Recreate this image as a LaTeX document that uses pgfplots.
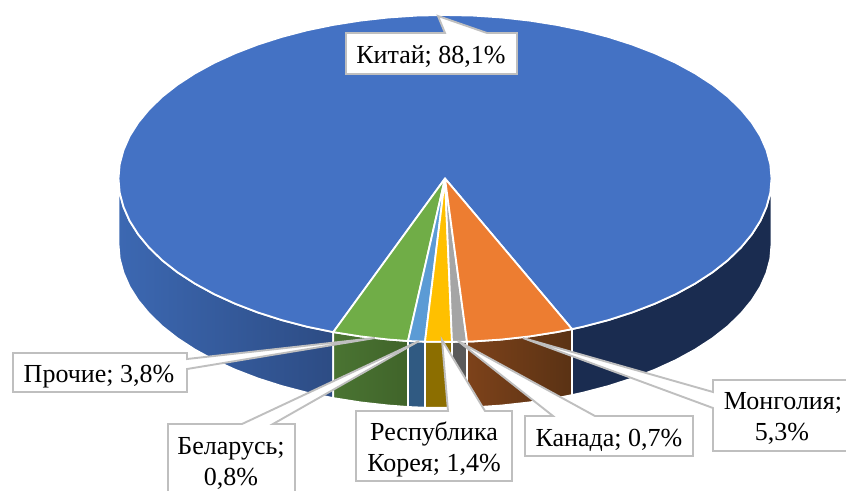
\documentclass[border=0pt]{standalone}
\usepackage{fontspec}
\setmainfont{Liberation Serif}
\usepackage{pgfplots}
\pgfplotsset{compat=1.18}

\definecolor{cBlue}{HTML}{4472C4}
\definecolor{cOrange}{HTML}{ED7D31}
\definecolor{cGrey}{HTML}{A5A5A5}
\definecolor{cYellow}{HTML}{FFC000}
\definecolor{cSky}{HTML}{5B9BD5}
\definecolor{cGreen}{HTML}{70AD47}
\definecolor{cNavy}{HTML}{1A2C50}
\definecolor{boxline}{HTML}{BFBFBF}

\tikzset{
  top/.style={draw=white, line width=1.8pt, line join=round},
  side/.style={draw=white, line width=1.8pt, line join=round},
  callout/.style={draw=boxline, fill=white, line width=1.9pt, line join=miter},
  lbl/.style={anchor=base, inner sep=0pt, font=\fontsize{26}{30}\selectfont, text=black},
}

\begin{document}
\begin{tikzpicture}
\begin{axis}[
    scale only axis, width=846pt, height=490pt,
    xmin=0, xmax=846, ymin=0, ymax=490,
    y dir=reverse, hide axis,
]
% side wall, left part of the big slice
\addplot[side, left color={rgb,255:red,60;green,104;blue,178}, middle color={rgb,255:red,54;green,92;blue,158}, right color={rgb,255:red,45;green,76;blue,132}] coordinates {
(333.3,332.1)(307.0,326.7)(281.8,320.1)(257.7,312.4)(235.1,303.7)(214.1,294.1)(194.9,283.6)(177.5,272.3)
(162.2,260.3)(149.1,247.6)(138.2,234.4)(129.6,220.8)(123.5,206.9)(119.7,192.8)(118.5,178.5)
(118.5,244.5)(119.7,258.8)(123.5,272.9)(129.6,286.8)(138.2,300.4)(149.1,313.6)(162.2,326.3)(177.5,338.3)
(194.9,349.6)(214.1,360.1)(235.1,369.7)(257.7,378.4)(281.8,386.1)(307.0,392.7)(333.3,398.1)
} -- cycle;
% side wall, right part of the big slice
\addplot[side, fill=cNavy] coordinates {
(572,329.1)(583.0,326.7)(608.3,320.1)(632.3,312.4)(654.9,303.7)(675.9,294.1)(695.1,283.6)(712.5,272.3)
(727.8,260.3)(740.9,247.6)(751.8,234.4)(760.4,220.8)(766.5,206.9)(770.3,192.8)(771.5,178.5)
(771.5,244.5)(770.3,258.8)(766.5,272.9)(760.4,286.8)(751.8,300.4)(740.9,313.6)(727.8,326.3)(712.5,338.3)
(695.1,349.6)(675.9,360.1)(654.9,369.7)(632.3,378.4)(608.3,386.1)(583.0,392.7)(572,395.1)
} -- cycle;
% side walls of the small slices
\addplot[side, left color={rgb,255:red,74;green,116;blue,50}, right color={rgb,255:red,64;green,100;blue,42}] coordinates {
(333.3,332.1)(360.5,336.4)(388.3,339.5)(408,341)(408,407)(388.3,405.5)(360.5,402.4)(333.3,398.1)
} -- cycle;
\addplot[side, fill={rgb,255:red,48;green,90;blue,130}] coordinates {
(408,341)(425,341.7)(425,407.7)(408,407)
} -- cycle;
\addplot[side, fill={rgb,255:red,140;green,110;blue,0}] coordinates {
(425,341.7)(452,341.9)(452,407.9)(425,407.7)
} -- cycle;
\addplot[side, fill={rgb,255:red,90;green,90;blue,90}] coordinates {
(452,341.9)(467,341.6)(467,407.6)(452,407.9)
} -- cycle;
\addplot[side, left color={rgb,255:red,125;green,66;blue,26}, right color={rgb,255:red,90;green,50;blue,20}] coordinates {
(467,341.6)(473.5,341.4)(501.7,339.5)(529.5,336.4)(556.7,332.1)(572,329.1)
(572,395.1)(556.7,398.1)(529.5,402.4)(501.7,405.5)(473.5,407.4)(467,407.6)
} -- cycle;

% top face
\addplot[top, fill=cBlue] coordinates {
(445,178.5)(572,329.1)(583.0,326.7)(608.3,320.1)(632.3,312.4)(654.9,303.7)(675.9,294.1)(695.1,283.6)(712.5,272.3)
(727.8,260.3)(740.9,247.6)(751.8,234.4)(760.4,220.8)(766.5,206.9)(770.3,192.8)(771.5,178.5)
(770.3,164.2)(766.5,150.1)(760.4,136.2)(751.8,122.6)(740.9,109.4)(727.8,96.7)(712.5,84.7)(695.1,73.4)
(675.9,62.9)(654.9,53.3)(632.3,44.6)(608.3,36.9)(583.0,30.3)(556.7,24.9)(529.5,20.6)(501.7,17.5)(473.5,15.6)
(445,15)(416.5,15.6)(388.3,17.5)(360.5,20.6)(333.3,24.9)(307.0,30.3)(281.8,36.9)(257.7,44.6)(235.1,53.3)
(214.1,62.9)(194.9,73.4)(177.5,84.7)(162.2,96.7)(149.1,109.4)(138.2,122.6)(129.6,136.2)(123.5,150.1)(119.7,164.2)
(118.5,178.5)(119.7,192.8)(123.5,206.9)(129.6,220.8)(138.2,234.4)(149.1,247.6)(162.2,260.3)(177.5,272.3)
(194.9,283.6)(214.1,294.1)(235.1,303.7)(257.7,312.4)(281.8,320.1)(307.0,326.7)(333.3,332.1)
} -- cycle;
\addplot[top, fill=cGreen] coordinates {
(445,178.5)(333.3,332.1)(360.5,336.4)(388.3,339.5)(408,341)
} -- cycle;
\addplot[top, fill=cSky] coordinates {
(445,178.5)(408,341)(425,341.7)
} -- cycle;
\addplot[top, fill=cYellow] coordinates {
(445,178.5)(425,341.7)(452,341.9)
} -- cycle;
\addplot[top, fill=cGrey] coordinates {
(445,178.5)(452,341.9)(467,341.6)
} -- cycle;
\addplot[top, fill=cOrange] coordinates {
(445,178.5)(467,341.6)(473.5,341.4)(501.7,339.5)(529.5,336.4)(556.7,332.1)(572,329.1)
} -- cycle;

% callouts
\addplot[callout] coordinates {(346,33)(445,33)(438,16)(487,33)(517,33)(517,74)(346,74)} -- cycle;
\addplot[callout] coordinates {(13,353)(187,353)(187,359)(375,338)(187,369)(187,392)(13,392)} -- cycle;
\addplot[callout] coordinates {(168,495)(168,424)(242,424)(419,341)(273,424)(295,424)(295,495)} -- cycle;
\addplot[callout] coordinates {(356,411)(448,411)(442,340)(485,411)(512,411)(512,481)(356,481)} -- cycle;
\addplot[callout] coordinates {(525,416)(553,416)(458,341)(595,416)(693,416)(693,456)(525,456)} -- cycle;
\addplot[callout] coordinates {(713,380)(852,380)(852,451)(713,451)(713,408)(523,338)(713,392)} -- cycle;

\node[lbl] at (axis cs:431,63) {Китай; 88,1\%};
\node[lbl] at (axis cs:99,382) {Прочие; 3,8\%};
\node[lbl] at (axis cs:231,454) {Беларусь;};
\node[lbl] at (axis cs:231,485) {0,8\%};
\node[lbl] at (axis cs:434,440) {Республика};
\node[lbl] at (axis cs:434,471) {Корея; 1,4\%};
\node[lbl] at (axis cs:609,446) {Канада; 0,7\%};
\node[lbl] at (axis cs:783,409) {Монголия;};
\node[lbl] at (axis cs:782,440) {5,3\%};
\end{axis}
\pgfresetboundingbox
\path[use as bounding box] (current axis.south west) rectangle (current axis.north east);
\end{tikzpicture}
\end{document}
